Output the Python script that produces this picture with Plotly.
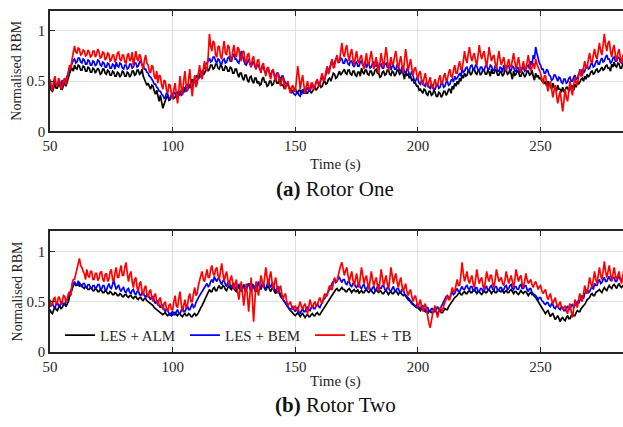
import plotly.graph_objects as go

# Rotor One — normalised root bending moment, sampled every 0.5 s from t = 50 s
r1_alm = [
    0.44,0.41,0.40,0.45,0.47,0.43,0.43,0.47,0.46,0.42,0.42,0.46,0.48,0.45,0.50,0.53,0.58,0.61,0.63,0.60,
    0.66,0.63,0.62,0.66,0.65,0.61,0.61,0.65,0.64,0.60,0.60,0.64,0.63,0.59,0.59,0.63,0.62,0.58,0.60,0.63,
    0.61,0.57,0.58,0.62,0.62,0.58,0.57,0.61,0.60,0.56,0.56,0.60,0.59,0.55,0.55,0.59,0.58,0.54,0.56,0.60,
    0.59,0.55,0.55,0.59,0.58,0.54,0.56,0.60,0.60,0.56,0.57,0.61,0.61,0.57,0.58,0.62,0.55,0.52,0.50,0.46,
    0.48,0.44,0.42,0.46,0.45,0.40,0.37,0.41,0.33,0.30,0.36,0.31,0.23,0.27,0.30,0.34,0.35,0.31,0.32,0.36,
    0.37,0.33,0.34,0.38,0.40,0.36,0.37,0.41,0.43,0.39,0.41,0.45,0.47,0.43,0.45,0.49,0.52,0.48,0.50,0.54,
    0.56,0.52,0.55,0.59,0.60,0.56,0.58,0.62,0.64,0.60,0.62,0.66,0.66,0.62,0.63,0.67,0.67,0.63,0.62,0.66,
    0.65,0.61,0.61,0.65,0.64,0.60,0.60,0.64,0.63,0.58,0.58,0.62,0.62,0.57,0.54,0.58,0.58,0.53,0.51,0.56,
    0.56,0.51,0.49,0.54,0.55,0.50,0.48,0.53,0.53,0.48,0.50,0.46,0.47,0.52,0.54,0.49,0.49,0.45,0.46,0.50,
    0.50,0.46,0.47,0.51,0.52,0.48,0.48,0.52,0.50,0.46,0.46,0.43,0.44,0.47,0.47,0.43,0.42,0.39,0.40,0.43,
    0.43,0.39,0.38,0.41,0.41,0.37,0.39,0.42,0.42,0.38,0.38,0.41,0.41,0.38,0.40,0.43,0.44,0.41,0.43,0.46,
    0.47,0.44,0.45,0.49,0.50,0.47,0.48,0.52,0.53,0.50,0.55,0.58,0.57,0.53,0.54,0.58,0.60,0.56,0.58,0.61,
    0.62,0.58,0.57,0.61,0.61,0.57,0.56,0.60,0.60,0.56,0.55,0.59,0.59,0.55,0.63,0.59,0.57,0.61,0.61,0.57,
    0.56,0.60,0.60,0.56,0.57,0.61,0.62,0.58,0.58,0.54,0.55,0.59,0.60,0.56,0.57,0.61,0.61,0.57,0.56,0.60,
    0.59,0.55,0.57,0.61,0.61,0.57,0.58,0.62,0.56,0.52,0.60,0.56,0.57,0.53,0.55,0.51,0.52,0.48,0.48,0.45,
    0.45,0.41,0.42,0.39,0.38,0.42,0.41,0.37,0.36,0.40,0.40,0.36,0.37,0.41,0.39,0.35,0.35,0.39,0.38,0.34,
    0.36,0.40,0.40,0.36,0.38,0.42,0.42,0.38,0.45,0.42,0.48,0.45,0.50,0.47,0.53,0.50,0.56,0.53,0.58,0.55,
    0.56,0.60,0.60,0.56,0.58,0.62,0.62,0.58,0.57,0.61,0.60,0.56,0.58,0.62,0.61,0.57,0.57,0.61,0.59,0.55,
    0.62,0.58,0.58,0.62,0.60,0.56,0.56,0.60,0.59,0.55,0.57,0.61,0.61,0.57,0.58,0.62,0.56,0.52,0.60,0.56,
    0.57,0.61,0.59,0.55,0.55,0.59,0.58,0.54,0.56,0.60,0.60,0.56,0.57,0.61,0.55,0.51,0.58,0.54,0.56,0.52,
    0.54,0.50,0.52,0.48,0.49,0.45,0.50,0.46,0.46,0.42,0.48,0.44,0.44,0.40,0.46,0.42,0.42,0.39,0.44,0.40,
    0.41,0.44,0.44,0.40,0.42,0.45,0.45,0.41,0.47,0.44,0.50,0.47,0.49,0.52,0.53,0.50,0.55,0.52,0.57,0.54,
    0.56,0.59,0.60,0.57,0.58,0.61,0.62,0.59,0.60,0.63,0.64,0.61,0.62,0.65,0.66,0.63,0.63,0.60,0.67,0.64,
    0.69,0.65,0.64,0.68,0.67,0.63,0.63,0.67,0.66,
]
r1_bem = [
    0.47,0.43,0.44,0.48,0.50,0.46,0.46,0.50,0.49,0.45,0.51,0.47,0.48,0.52,0.55,0.58,0.62,0.65,0.68,0.71,
    0.72,0.68,0.69,0.73,0.73,0.69,0.68,0.72,0.71,0.67,0.67,0.71,0.70,0.66,0.66,0.70,0.69,0.65,0.67,0.71,
    0.70,0.66,0.65,0.69,0.68,0.64,0.64,0.68,0.67,0.63,0.63,0.67,0.66,0.62,0.69,0.65,0.64,0.68,0.67,0.63,
    0.62,0.66,0.66,0.62,0.63,0.67,0.67,0.63,0.64,0.68,0.68,0.64,0.65,0.69,0.70,0.66,0.66,0.62,0.62,0.59,
    0.58,0.55,0.54,0.51,0.50,0.47,0.47,0.44,0.43,0.40,0.40,0.37,0.36,0.33,0.34,0.38,0.37,0.33,0.32,0.36,
    0.35,0.39,0.38,0.34,0.34,0.38,0.40,0.36,0.37,0.41,0.44,0.40,0.41,0.45,0.47,0.43,0.45,0.49,0.53,0.50,
    0.50,0.55,0.58,0.54,0.56,0.61,0.64,0.67,0.68,0.71,0.73,0.69,0.70,0.74,0.74,0.70,0.68,0.72,0.71,0.67,
    0.67,0.71,0.72,0.68,0.69,0.73,0.74,0.70,0.70,0.75,0.77,0.72,0.72,0.69,0.68,0.74,0.80,0.75,0.70,0.67,
    0.66,0.70,0.72,0.67,0.64,0.68,0.69,0.65,0.62,0.66,0.66,0.62,0.60,0.64,0.64,0.60,0.58,0.62,0.62,0.58,
    0.56,0.60,0.60,0.56,0.55,0.58,0.58,0.54,0.52,0.55,0.55,0.51,0.48,0.47,0.46,0.44,0.42,0.40,0.38,0.37,
    0.36,0.39,0.40,0.36,0.35,0.39,0.42,0.38,0.38,0.42,0.44,0.40,0.40,0.44,0.47,0.43,0.45,0.49,0.50,0.47,
    0.48,0.52,0.55,0.51,0.52,0.57,0.60,0.62,0.63,0.67,0.70,0.66,0.68,0.72,0.73,0.69,0.69,0.73,0.72,0.68,
    0.68,0.72,0.71,0.67,0.66,0.70,0.70,0.66,0.64,0.68,0.69,0.65,0.65,0.69,0.70,0.66,0.66,0.70,0.63,0.67,
    0.67,0.63,0.64,0.68,0.69,0.65,0.65,0.69,0.62,0.66,0.67,0.63,0.63,0.67,0.68,0.64,0.64,0.68,0.61,0.65,
    0.66,0.62,0.62,0.66,0.65,0.61,0.60,0.64,0.63,0.59,0.58,0.62,0.61,0.57,0.56,0.60,0.54,0.51,0.50,0.53,
    0.52,0.48,0.47,0.51,0.50,0.46,0.45,0.49,0.48,0.44,0.43,0.47,0.46,0.42,0.42,0.46,0.47,0.43,0.44,0.48,
    0.48,0.44,0.45,0.49,0.50,0.46,0.47,0.51,0.52,0.49,0.55,0.52,0.53,0.56,0.58,0.55,0.62,0.59,0.60,0.63,
    0.64,0.60,0.61,0.65,0.66,0.62,0.62,0.66,0.65,0.61,0.60,0.64,0.64,0.60,0.61,0.65,0.66,0.62,0.62,0.66,
    0.65,0.61,0.61,0.65,0.64,0.60,0.60,0.64,0.63,0.59,0.66,0.62,0.62,0.66,0.65,0.61,0.61,0.65,0.64,0.60,
    0.60,0.64,0.63,0.59,0.59,0.63,0.64,0.60,0.61,0.65,0.66,0.62,0.70,0.66,0.76,0.72,0.84,0.78,0.72,0.68,
    0.66,0.62,0.62,0.58,0.58,0.62,0.60,0.56,0.55,0.51,0.52,0.56,0.56,0.52,0.50,0.54,0.53,0.49,0.48,0.52,
    0.52,0.48,0.49,0.53,0.54,0.50,0.50,0.54,0.56,0.52,0.53,0.57,0.59,0.55,0.62,0.58,0.60,0.64,0.66,0.62,
    0.63,0.67,0.68,0.64,0.65,0.69,0.71,0.67,0.67,0.71,0.73,0.69,0.70,0.74,0.76,0.72,0.72,0.68,0.69,0.73,
    0.74,0.70,0.70,0.74,0.73,0.69,0.68,0.72,0.71,
]
r1_tb = [
    0.52,0.44,0.40,0.50,0.55,0.47,0.45,0.53,0.50,0.42,0.44,0.51,0.53,0.46,0.56,0.60,0.66,0.62,0.72,0.78,
    0.85,0.79,0.78,0.83,0.82,0.76,0.77,0.81,0.80,0.75,0.76,0.81,0.79,0.74,0.75,0.80,0.80,0.74,0.77,0.82,
    0.79,0.73,0.74,0.79,0.78,0.71,0.73,0.78,0.77,0.70,0.71,0.76,0.76,0.69,0.72,0.78,0.79,0.72,0.70,0.76,
    0.76,0.69,0.68,0.75,0.78,0.70,0.72,0.79,0.65,0.73,0.80,0.72,0.70,0.77,0.74,0.66,0.62,0.71,0.76,0.68,
    0.66,0.60,0.58,0.66,0.64,0.55,0.52,0.60,0.48,0.56,0.55,0.46,0.42,0.51,0.50,0.41,0.38,0.47,0.46,0.37,
    0.32,0.42,0.48,0.38,0.28,0.40,0.55,0.44,0.36,0.50,0.60,0.47,0.40,0.52,0.62,0.46,0.35,0.48,0.56,0.44,
    0.48,0.58,0.66,0.55,0.52,0.62,0.70,0.62,0.60,0.75,0.97,0.85,0.80,0.90,0.88,0.76,0.74,0.84,0.85,0.75,
    0.72,0.82,0.90,0.78,0.76,0.86,0.84,0.74,0.70,0.80,0.86,0.76,0.74,0.84,0.82,0.72,0.70,0.79,0.80,0.71,
    0.68,0.76,0.78,0.68,0.64,0.72,0.75,0.66,0.62,0.70,0.72,0.63,0.58,0.66,0.68,0.60,0.55,0.63,0.64,0.56,
    0.52,0.60,0.62,0.54,0.50,0.56,0.58,0.50,0.45,0.52,0.54,0.46,0.42,0.48,0.50,0.43,0.38,0.44,0.46,0.40,
    0.40,0.52,0.65,0.55,0.42,0.50,0.56,0.46,0.38,0.45,0.50,0.43,0.42,0.48,0.48,0.41,0.44,0.50,0.52,0.45,
    0.46,0.54,0.58,0.50,0.52,0.60,0.65,0.57,0.60,0.68,0.72,0.63,0.64,0.72,0.76,0.68,0.70,0.79,0.88,0.78,
    0.74,0.82,0.86,0.76,0.70,0.78,0.82,0.72,0.66,0.74,0.80,0.70,0.68,0.74,0.76,0.67,0.62,0.70,0.78,0.68,
    0.66,0.74,0.80,0.70,0.62,0.68,0.74,0.64,0.58,0.68,0.78,0.70,0.64,0.74,0.84,0.74,0.60,0.67,0.74,0.66,
    0.68,0.75,0.80,0.70,0.62,0.69,0.75,0.66,0.58,0.70,0.82,0.72,0.60,0.66,0.72,0.63,0.56,0.62,0.64,0.57,
    0.52,0.58,0.60,0.50,0.46,0.53,0.58,0.50,0.44,0.50,0.54,0.46,0.42,0.48,0.52,0.45,0.46,0.52,0.56,0.48,
    0.48,0.55,0.58,0.50,0.52,0.58,0.62,0.55,0.54,0.61,0.66,0.58,0.58,0.65,0.70,0.62,0.62,0.70,0.80,0.72,
    0.68,0.77,0.84,0.75,0.70,0.75,0.78,0.70,0.66,0.75,0.86,0.77,0.72,0.77,0.80,0.71,0.64,0.73,0.84,0.76,
    0.70,0.74,0.76,0.68,0.62,0.71,0.80,0.72,0.66,0.70,0.74,0.66,0.60,0.67,0.72,0.65,0.64,0.71,0.78,0.69,
    0.62,0.68,0.74,0.66,0.58,0.64,0.70,0.63,0.62,0.69,0.76,0.67,0.60,0.64,0.68,0.62,0.72,0.67,0.64,0.60,
    0.58,0.52,0.48,0.55,0.56,0.47,0.40,0.46,0.50,0.42,0.34,0.41,0.46,0.36,0.28,0.35,0.40,0.30,0.20,0.30,
    0.42,0.34,0.30,0.40,0.50,0.42,0.36,0.46,0.54,0.48,0.46,0.55,0.62,0.56,0.55,0.63,0.70,0.63,0.64,0.72,
    0.78,0.70,0.68,0.76,0.82,0.75,0.72,0.80,0.88,0.80,0.76,0.86,0.97,0.86,0.80,0.88,0.90,0.80,0.74,0.82,
    0.86,0.76,0.70,0.78,0.82,0.74,0.68,0.75,0.78,
]

# Rotor Two — normalised root bending moment, same sampling
r2_alm = [
    0.42,0.39,0.38,0.42,0.45,0.42,0.41,0.44,0.46,0.43,0.44,0.47,0.48,0.45,0.47,0.50,0.55,0.58,0.62,0.66,
    0.68,0.66,0.66,0.68,0.65,0.67,0.66,0.64,0.63,0.65,0.64,0.62,0.62,0.64,0.63,0.61,0.61,0.63,0.62,0.60,
    0.60,0.62,0.61,0.59,0.59,0.61,0.60,0.58,0.58,0.60,0.59,0.57,0.57,0.59,0.58,0.56,0.56,0.58,0.57,0.55,
    0.55,0.57,0.57,0.55,0.54,0.56,0.56,0.54,0.53,0.55,0.55,0.53,0.52,0.54,0.54,0.52,0.51,0.53,0.53,0.51,
    0.50,0.49,0.48,0.47,0.46,0.44,0.43,0.42,0.41,0.40,0.39,0.38,0.37,0.38,0.39,0.37,0.36,0.38,0.38,0.36,
    0.37,0.39,0.39,0.37,0.36,0.38,0.38,0.36,0.35,0.37,0.38,0.36,0.36,0.38,0.37,0.35,0.35,0.37,0.38,0.36,
    0.37,0.39,0.42,0.44,0.46,0.49,0.52,0.55,0.58,0.60,0.62,0.60,0.60,0.63,0.64,0.61,0.61,0.64,0.66,0.63,
    0.63,0.66,0.65,0.62,0.61,0.64,0.66,0.63,0.62,0.65,0.64,0.61,0.60,0.63,0.65,0.62,0.61,0.64,0.67,0.63,
    0.62,0.66,0.68,0.64,0.63,0.67,0.66,0.62,0.60,0.65,0.69,0.65,0.62,0.66,0.67,0.63,0.61,0.64,0.66,0.62,
    0.60,0.63,0.64,0.60,0.58,0.61,0.61,0.58,0.55,0.54,0.52,0.50,0.48,0.47,0.45,0.43,0.41,0.40,0.38,0.37,
    0.36,0.38,0.39,0.37,0.35,0.37,0.38,0.36,0.34,0.36,0.37,0.35,0.35,0.37,0.38,0.36,0.36,0.38,0.39,0.37,
    0.37,0.39,0.41,0.43,0.44,0.46,0.48,0.51,0.53,0.55,0.57,0.59,0.60,0.62,0.63,0.61,0.61,0.63,0.64,0.62,
    0.62,0.60,0.60,0.62,0.63,0.61,0.59,0.61,0.62,0.60,0.60,0.62,0.58,0.60,0.61,0.59,0.59,0.61,0.62,0.60,
    0.59,0.61,0.61,0.59,0.58,0.60,0.62,0.60,0.59,0.61,0.60,0.58,0.58,0.60,0.61,0.59,0.57,0.59,0.60,0.58,
    0.58,0.60,0.61,0.59,0.57,0.59,0.59,0.57,0.56,0.57,0.55,0.53,0.52,0.51,0.50,0.48,0.47,0.46,0.45,0.44,
    0.44,0.42,0.41,0.43,0.43,0.41,0.40,0.42,0.38,0.40,0.41,0.39,0.39,0.41,0.42,0.40,0.38,0.40,0.41,0.39,
    0.39,0.41,0.43,0.42,0.42,0.45,0.47,0.49,0.50,0.52,0.54,0.55,0.56,0.58,0.59,0.57,0.57,0.59,0.60,0.58,
    0.58,0.60,0.61,0.59,0.59,0.61,0.62,0.60,0.58,0.60,0.60,0.58,0.57,0.59,0.61,0.59,0.59,0.61,0.62,0.60,
    0.58,0.60,0.61,0.59,0.59,0.61,0.62,0.60,0.60,0.62,0.58,0.60,0.61,0.59,0.59,0.61,0.62,0.60,0.58,0.60,
    0.60,0.58,0.57,0.59,0.61,0.59,0.58,0.60,0.60,0.58,0.56,0.58,0.59,0.57,0.57,0.55,0.54,0.52,0.50,0.48,
    0.46,0.44,0.42,0.40,0.38,0.40,0.41,0.38,0.35,0.37,0.38,0.35,0.32,0.34,0.36,0.33,0.30,0.33,0.34,0.32,
    0.31,0.34,0.36,0.33,0.33,0.36,0.38,0.36,0.36,0.39,0.41,0.40,0.40,0.43,0.45,0.46,0.47,0.50,0.52,0.53,
    0.54,0.57,0.58,0.56,0.56,0.59,0.60,0.61,0.62,0.60,0.59,0.62,0.64,0.62,0.61,0.64,0.66,0.64,0.63,0.66,
    0.67,0.65,0.63,0.66,0.68,0.65,0.64,0.66,0.66,
]
r2_bem = [
    0.45,0.47,0.48,0.45,0.44,0.47,0.49,0.46,0.46,0.49,0.50,0.47,0.47,0.50,0.52,0.55,0.58,0.61,0.65,0.68,
    0.70,0.67,0.67,0.70,0.69,0.66,0.65,0.68,0.68,0.65,0.64,0.67,0.67,0.64,0.63,0.66,0.66,0.63,0.64,0.67,
    0.67,0.63,0.62,0.66,0.66,0.62,0.61,0.65,0.68,0.64,0.63,0.67,0.72,0.66,0.62,0.65,0.66,0.62,0.60,0.63,
    0.64,0.60,0.59,0.62,0.63,0.59,0.58,0.61,0.62,0.58,0.57,0.60,0.61,0.57,0.56,0.59,0.59,0.56,0.54,0.57,
    0.57,0.54,0.52,0.55,0.55,0.51,0.48,0.51,0.50,0.46,0.44,0.47,0.46,0.42,0.40,0.43,0.42,0.38,0.36,0.39,
    0.40,0.37,0.37,0.40,0.42,0.38,0.38,0.41,0.44,0.40,0.40,0.43,0.46,0.42,0.42,0.45,0.48,0.44,0.45,0.49,
    0.52,0.54,0.56,0.58,0.60,0.62,0.64,0.66,0.68,0.65,0.66,0.70,0.72,0.69,0.75,0.72,0.70,0.73,0.73,0.69,
    0.67,0.71,0.71,0.67,0.65,0.69,0.70,0.66,0.64,0.68,0.68,0.64,0.62,0.66,0.67,0.63,0.60,0.64,0.65,0.61,
    0.62,0.66,0.68,0.63,0.60,0.64,0.66,0.61,0.62,0.66,0.70,0.65,0.64,0.68,0.68,0.64,0.62,0.67,0.72,0.67,
    0.64,0.68,0.68,0.63,0.60,0.63,0.65,0.60,0.56,0.54,0.52,0.50,0.48,0.46,0.44,0.43,0.42,0.44,0.45,0.42,
    0.40,0.43,0.44,0.40,0.38,0.41,0.43,0.40,0.40,0.43,0.45,0.42,0.41,0.44,0.46,0.43,0.43,0.46,0.48,0.45,
    0.44,0.47,0.50,0.52,0.53,0.56,0.58,0.60,0.62,0.65,0.68,0.70,0.72,0.69,0.70,0.73,0.74,0.71,0.69,0.72,
    0.72,0.68,0.67,0.70,0.70,0.66,0.65,0.68,0.69,0.65,0.64,0.67,0.68,0.64,0.63,0.66,0.67,0.63,0.62,0.65,
    0.66,0.62,0.61,0.64,0.65,0.61,0.62,0.65,0.67,0.63,0.63,0.66,0.66,0.62,0.61,0.64,0.64,0.61,0.60,0.63,
    0.65,0.61,0.60,0.63,0.63,0.60,0.59,0.62,0.62,0.58,0.56,0.55,0.54,0.52,0.50,0.49,0.48,0.46,0.45,0.47,
    0.47,0.44,0.43,0.46,0.46,0.42,0.41,0.44,0.44,0.41,0.40,0.43,0.43,0.40,0.40,0.43,0.45,0.42,0.42,0.45,
    0.48,0.50,0.52,0.55,0.56,0.54,0.54,0.57,0.60,0.57,0.58,0.61,0.63,0.60,0.60,0.63,0.65,0.62,0.62,0.65,
    0.66,0.63,0.62,0.65,0.65,0.61,0.61,0.64,0.64,0.60,0.60,0.63,0.63,0.60,0.61,0.64,0.65,0.61,0.62,0.65,
    0.66,0.62,0.62,0.65,0.65,0.61,0.61,0.64,0.64,0.61,0.62,0.65,0.66,0.62,0.63,0.66,0.67,0.63,0.62,0.65,
    0.65,0.62,0.62,0.66,0.67,0.63,0.63,0.66,0.66,0.62,0.60,0.63,0.63,0.59,0.58,0.57,0.56,0.54,0.52,0.54,
    0.54,0.51,0.50,0.48,0.47,0.49,0.49,0.46,0.45,0.48,0.47,0.44,0.43,0.46,0.46,0.43,0.42,0.45,0.44,0.41,
    0.41,0.44,0.45,0.42,0.43,0.46,0.47,0.44,0.46,0.49,0.50,0.48,0.52,0.54,0.56,0.53,0.58,0.60,0.62,0.59,
    0.60,0.63,0.65,0.62,0.68,0.66,0.66,0.70,0.72,0.68,0.69,0.72,0.74,0.70,0.70,0.73,0.75,0.71,0.71,0.74,
    0.74,0.70,0.70,0.73,0.76,0.72,0.71,0.74,0.73,
]
r2_tb = [
    0.52,0.46,0.47,0.53,0.54,0.48,0.49,0.55,0.53,0.47,0.50,0.56,0.55,0.49,0.52,0.58,0.60,0.56,0.68,0.72,
    0.72,0.78,0.82,0.88,0.93,0.86,0.84,0.80,0.78,0.72,0.82,0.76,0.74,0.80,0.80,0.72,0.72,0.78,0.78,0.71,
    0.73,0.79,0.80,0.72,0.70,0.77,0.78,0.70,0.72,0.80,0.82,0.72,0.70,0.79,0.84,0.74,0.74,0.81,0.86,0.76,
    0.76,0.84,0.89,0.78,0.70,0.77,0.80,0.70,0.64,0.72,0.74,0.64,0.60,0.68,0.70,0.61,0.56,0.63,0.66,0.58,
    0.54,0.60,0.62,0.54,0.50,0.56,0.58,0.50,0.46,0.52,0.54,0.46,0.42,0.48,0.50,0.43,0.40,0.46,0.48,0.42,
    0.42,0.50,0.56,0.46,0.44,0.53,0.60,0.48,0.40,0.46,0.52,0.44,0.46,0.54,0.58,0.50,0.50,0.58,0.64,0.56,
    0.58,0.66,0.72,0.76,0.80,0.72,0.70,0.77,0.82,0.74,0.74,0.82,0.86,0.78,0.76,0.82,0.84,0.76,0.72,0.80,
    0.88,0.78,0.70,0.76,0.80,0.72,0.66,0.72,0.76,0.68,0.62,0.68,0.72,0.60,0.52,0.62,0.70,0.58,0.46,0.58,
    0.68,0.55,0.40,0.56,0.74,0.52,0.30,0.50,0.70,0.62,0.56,0.66,0.76,0.70,0.64,0.74,0.84,0.74,0.66,0.74,
    0.80,0.70,0.62,0.68,0.74,0.66,0.58,0.62,0.66,0.58,0.52,0.56,0.58,0.50,0.46,0.48,0.50,0.45,0.42,0.44,
    0.46,0.42,0.40,0.46,0.50,0.45,0.42,0.46,0.48,0.42,0.38,0.45,0.52,0.47,0.44,0.48,0.50,0.45,0.46,0.51,
    0.54,0.50,0.48,0.54,0.58,0.55,0.56,0.62,0.66,0.62,0.62,0.68,0.74,0.70,0.70,0.76,0.82,0.86,0.89,0.80,
    0.76,0.81,0.84,0.76,0.70,0.75,0.80,0.72,0.66,0.72,0.78,0.70,0.64,0.74,0.84,0.76,0.68,0.73,0.76,0.68,
    0.62,0.71,0.80,0.72,0.66,0.70,0.74,0.66,0.60,0.70,0.82,0.74,0.66,0.71,0.76,0.68,0.62,0.72,0.84,0.76,
    0.68,0.74,0.78,0.70,0.64,0.70,0.74,0.66,0.60,0.64,0.68,0.60,0.56,0.60,0.62,0.55,0.50,0.54,0.56,0.50,
    0.44,0.48,0.52,0.45,0.40,0.45,0.48,0.42,0.32,0.28,0.24,0.32,0.38,0.42,0.46,0.40,0.34,0.40,0.44,0.42,
    0.40,0.46,0.50,0.54,0.56,0.52,0.52,0.58,0.64,0.60,0.60,0.66,0.72,0.66,0.66,0.76,0.89,0.78,0.70,0.75,
    0.80,0.72,0.68,0.73,0.76,0.68,0.64,0.72,0.82,0.74,0.68,0.72,0.74,0.66,0.62,0.70,0.80,0.74,0.70,0.76,
    0.76,0.68,0.64,0.72,0.82,0.76,0.70,0.72,0.74,0.68,0.66,0.72,0.80,0.74,0.68,0.72,0.76,0.70,0.64,0.72,
    0.82,0.76,0.70,0.74,0.76,0.68,0.64,0.70,0.78,0.72,0.68,0.70,0.72,0.67,0.64,0.68,0.70,0.66,0.62,0.65,
    0.66,0.61,0.58,0.60,0.62,0.56,0.52,0.55,0.58,0.52,0.48,0.51,0.54,0.48,0.44,0.47,0.50,0.45,0.42,0.44,
    0.46,0.41,0.38,0.44,0.48,0.40,0.34,0.43,0.52,0.47,0.44,0.52,0.58,0.53,0.50,0.58,0.66,0.60,0.58,0.66,
    0.74,0.68,0.64,0.72,0.80,0.72,0.68,0.76,0.84,0.76,0.72,0.80,0.90,0.80,0.74,0.80,0.86,0.77,0.70,0.78,
    0.84,0.76,0.72,0.76,0.80,0.72,0.68,0.75,0.82,
]

# Sample times (s)
time = [50 + 0.5 * i for i in range(len(r1_alm))]
for s in (r1_bem, r1_tb, r2_alm, r2_bem, r2_tb):
    assert len(s) == len(time), len(s)

series_names = ["LES + ALM", "LES + BEM", "LES + TB"]
series_colors = ["#000000", "#0000ff", "#ff0000"]
x_ticks = [50, 100, 150, 200, 250]
y_ticks = [0, 0.5, 1]

W, H = 623, 427
FONT = "Liberation Serif, Times New Roman, serif"
INK = "#262626"
PLOT_L, PLOT_W = 50, 573


def py(px):
    """Pixel row (from the top) -> paper coordinate."""
    return (H - px) / H


def pxx(px):
    """Pixel column -> paper coordinate."""
    return (px - PLOT_L) / PLOT_W


fig = go.Figure()

panels = [
    ("", [r1_alm, r1_bem, r1_tb]),
    ("2", [r2_alm, r2_bem, r2_tb]),
]
for suffix, data in panels:
    for name, color, vals in zip(series_names, series_colors, data):
        fig.add_trace(go.Scatter(
            x=time, y=vals, mode="lines", name=name,
            line=dict(color=color, width=1.7),
            xaxis="x" + suffix, yaxis="y" + suffix,
            showlegend=(suffix == "2"),
        ))

axis_common = dict(
    showline=True, linecolor=INK, linewidth=1.5,
    ticks="inside", ticklen=5, tickwidth=1.2, tickcolor=INK,
    showgrid=True, gridcolor="#e1e1e1", gridwidth=1.3,
    zeroline=False,
    tickfont=dict(family=FONT, size=15, color=INK),
)

x_common = dict(axis_common, range=[50, 283.6], tickvals=x_ticks,
                mirror="ticks", domain=[0, 1])
y_common = dict(axis_common, range=[0, 1.2], tickvals=y_ticks,
                ticktext=["0", "0.5", "1"], mirror=False)

fig.update_layout(
    width=W, height=H,
    margin=dict(l=PLOT_L, r=0, t=0, b=0),
    paper_bgcolor="white", plot_bgcolor="white",
    xaxis=dict(x_common, anchor="y"),
    yaxis=dict(y_common, anchor="x", domain=[py(134), py(11)]),
    xaxis2=dict(x_common, anchor="y2"),
    yaxis2=dict(y_common, anchor="x2", domain=[py(358.5), py(235.7)]),
    showlegend=True,
    legend=dict(
        orientation="h", x=pxx(60), xanchor="left",
        y=py(341.7), yanchor="middle",
        bgcolor="rgba(0,0,0,0)", borderwidth=0,
        font=dict(family=FONT, size=15, color=INK),
        entrywidthmode="pixels", entrywidth=80,
        tracegroupgap=0,
    ),
)

# Axis labels and panel captions
xc = pxx(335)
for ymid, ty, cy, caption in [(72, 168, 193, "<b>(a)</b> Rotor One"),
                              (297, 389, 413, "<b>(b)</b> Rotor Two")]:
    fig.add_annotation(x=pxx(17), y=py(ymid), xref="paper", yref="paper",
                       text="Normalised RBM", textangle=-90, showarrow=False,
                       font=dict(family=FONT, size=14, color=INK),
                       xanchor="center", yanchor="middle")
    fig.add_annotation(x=xc, y=py(ty), xref="paper", yref="paper",
                       text="Time (s)", showarrow=False,
                       font=dict(family=FONT, size=15, color=INK),
                       xanchor="center", yanchor="middle")
    fig.add_annotation(x=xc, y=py(cy), xref="paper", yref="paper",
                       text=caption, showarrow=False,
                       font=dict(family=FONT, size=21, color="#111111"),
                       xanchor="center", yanchor="middle")

fig.write_html("out.html")
